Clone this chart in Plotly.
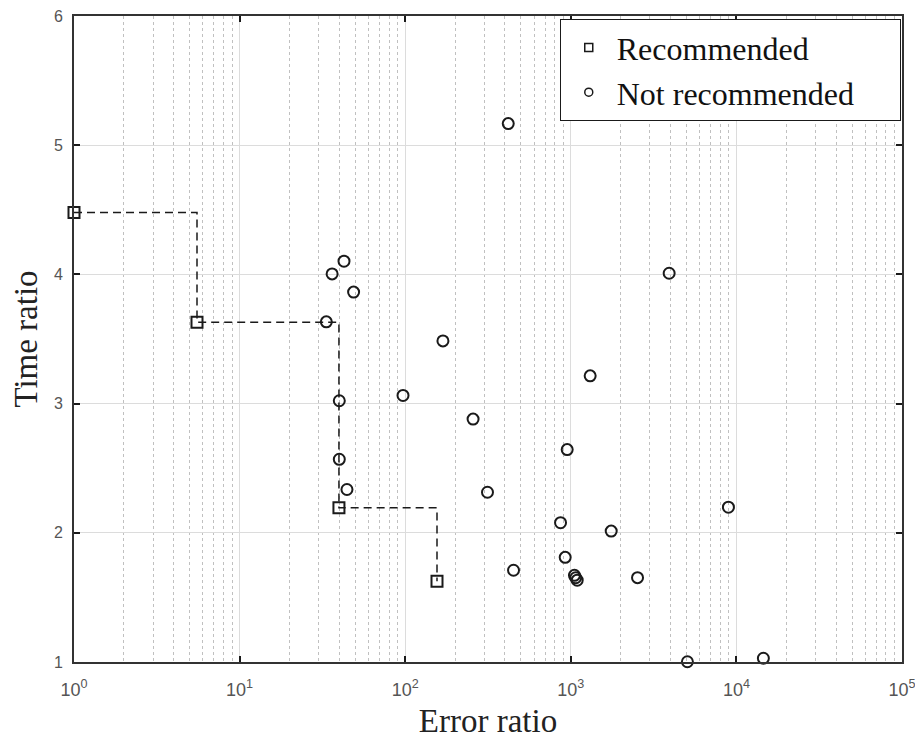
import plotly.graph_objects as go

# Recommended (Pareto) configurations
rec_x = [1.0, 5.53, 39.8, 155.6]
rec_y = [4.48, 3.63, 2.194, 1.625]

# Not recommended configurations
nr_x = [419, 3926, 36.2, 42.7, 48.8, 33.4, 169, 1309, 40.0, 97, 257, 951, 40.0,
        44.5, 314, 8951, 867, 1754, 925, 451, 1052, 1071, 1093, 2529, 5060, 14550]
nr_y = [5.167, 4.009, 4.004, 4.102, 3.863, 3.633, 3.485, 3.215, 3.022, 3.063, 2.880,
        2.644, 2.569, 2.335, 2.314, 2.198, 2.078, 2.013, 1.810, 1.710, 1.671, 1.652,
        1.633, 1.653, 1.002, 1.029]

series_names = ["Recommended", "Not recommended"]

x_tickvals = [1, 10, 100, 1000, 10000, 100000]
x_ticktext = ["10<sup>0</sup>", "10<sup>1</sup>", "10<sup>2</sup>",
              "10<sup>3</sup>", "10<sup>4</sup>", "10<sup>5</sup>"]
y_tickvals = [1, 2, 3, 4, 5, 6]

INK = "#1a1a1a"
SERIF = "Liberation Serif, Times New Roman, serif"
SANS = "Liberation Sans, Arial, sans-serif"
PAD = "\u00a0" * 5  # right padding inside the legend box

fig = go.Figure()

# dashed staircase through recommended points
fig.add_trace(go.Scatter(
    x=rec_x, y=rec_y, mode="lines", line_shape="hv",
    line=dict(color=INK, width=1.5, dash="8px,5px"),
    showlegend=False, hoverinfo="skip", cliponaxis=False))

fig.add_trace(go.Scatter(
    x=nr_x, y=nr_y, mode="markers", cliponaxis=False, showlegend=False,
    marker=dict(symbol="circle-open", size=11, color=INK, line=dict(width=2, color=INK))))

fig.add_trace(go.Scatter(
    x=rec_x, y=rec_y, mode="markers", cliponaxis=False, showlegend=False,
    marker=dict(symbol="square-open", size=11, color=INK, line=dict(width=2, color=INK))))

# legend entries (small symbols, as in the reference)
fig.add_trace(go.Scatter(
    x=[None], y=[None], mode="markers", name=series_names[0],
    marker=dict(symbol="square-open", size=8, color=INK, line=dict(width=1.5, color=INK))))
fig.add_trace(go.Scatter(
    x=[None], y=[None], mode="markers", name=series_names[1] + PAD,
    marker=dict(symbol="circle-open", size=8, color=INK, line=dict(width=1.5, color=INK))))

fig.update_layout(
    width=923, height=744,
    margin=dict(l=66, r=29, t=8, b=90, autoexpand=False),
    paper_bgcolor="white", plot_bgcolor="white",
    showlegend=True,
    legend=dict(
        x=0.9985, y=0.995, xanchor="right", yanchor="top",
        bgcolor="white", bordercolor=INK, borderwidth=1,
        font=dict(family=SERIF, size=32, color="#111"),
        itemwidth=46,
    ),
    xaxis=dict(
        type="log", range=[0, 5],
        tickvals=x_tickvals, ticktext=x_ticktext,
        tickfont=dict(family=SANS, size=18, color="#555"),
        ticks="inside", ticklen=6, tickwidth=1.5, tickcolor=INK,
        ticklabelstandoff=10, ticklabeloverflow="allow",
        showline=True, linecolor="#333", linewidth=2, mirror="ticks",
        showgrid=True, gridcolor="#dcdcdc", gridwidth=1,
        minor=dict(dtick="D1", showgrid=True, gridcolor="#c0c0c0",
                   griddash="dot", gridwidth=1, ticks=""),
        zeroline=False,
        title=dict(text="Error ratio", font=dict(family=SERIF, size=33, color="#222"),
                   standoff=10),
        automargin=False,
    ),
    yaxis=dict(
        range=[1, 6], tickvals=y_tickvals,
        tickfont=dict(family=SANS, size=16, color="#555"),
        ticks="inside", ticklen=6, tickwidth=1.5, tickcolor=INK,
        ticklabelstandoff=6, ticklabeloverflow="allow",
        showline=True, linecolor="#333", linewidth=2, mirror="ticks",
        showgrid=True, gridcolor="#dcdcdc", gridwidth=1,
        zeroline=False,
        title=dict(text="Time ratio", font=dict(family=SERIF, size=33, color="#222"),
                   standoff=8),
        automargin=False,
    ),
)

fig.write_html("out.html")
